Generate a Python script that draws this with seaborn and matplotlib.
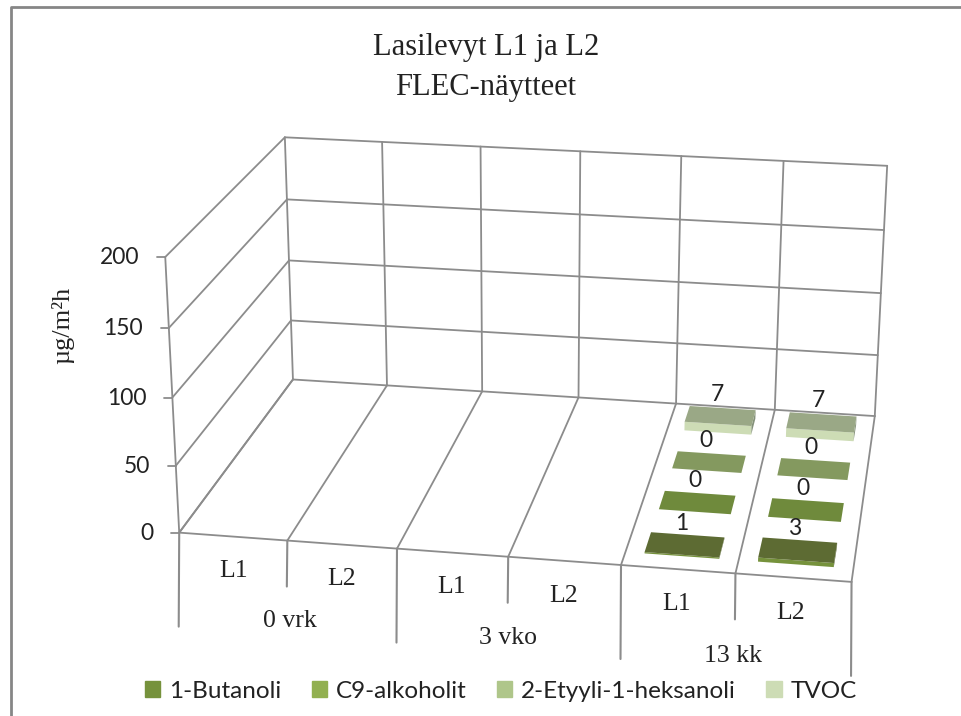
import matplotlib
matplotlib.use('Agg')
import matplotlib.pyplot as plt
from matplotlib.patches import Patch
import numpy as np
import seaborn as sns

title = 'Lasilevyt L1 ja L2\nFLEC-näytteet'
ylabel = 'µg/m²h'
samples = ['L1', 'L2', 'L1', 'L2', 'L1', 'L2']
groups = ['0 vrk', '3 vko', '13 kk']
series = ['1-Butanoli', 'C9-alkoholit', '2-Etyyli-1-heksanoli', 'TVOC']
yticks = [0, 50, 100, 150, 200]

# values per sample, nan = no measurement drawn
butanoli = [np.nan, np.nan, np.nan, np.nan, 1, 3]
c9 = [np.nan, np.nan, np.nan, np.nan, 0, 0]
etyyli = [np.nan, np.nan, np.nan, np.nan, 0, 0]
tvoc = [np.nan, np.nan, np.nan, np.nan, 7, 7]

front_colors = ['#76923c', '#92b050', '#afc68a', '#cddcb5']
top_colors = ['#5d6b33', '#6f8a3c', '#84995f', '#9aa886']
side_colors = ['#4f5c2a', '#5f7733', '#71834f', '#85927a']
grid_color = '#8c8c8c'
text_color = '#222222'

# pixel positions of the chart box edges, only used to fit the perspective camera
floor_front = [(179, 532), (288, 541), (397, 549), (508, 557), (621, 565), (736, 573), (851, 582)]
floor_back = [(293, 379), (387, 385), (482, 392), (578, 398), (676, 403), (775, 410), (875, 416)]
wall_top = [(285, 137), (382, 142), (480, 147), (581, 152), (682, 156), (783, 161), (887, 165)]
left_edge = [(176, 466), (172, 397), (169, 328), (165, 257)]


def fit_camera():
    pts = []
    for i in range(7):
        pts.append(((i, 0, 0), floor_front[i]))
        pts.append(((i, 4, 0), floor_back[i]))
        pts.append(((i, 4, 200), wall_top[i]))
    for v, p in zip(yticks[1:], left_edge):
        pts.append(((0, 0, v), p))
    rows = []
    rhs = []
    for (x, y, z), (u, v) in pts:
        rows.append([x, y, z, 1, 0, 0, 0, 0, -u*x, -u*y, -u*z])
        rows.append([0, 0, 0, 0, x, y, z, 1, -v*x, -v*y, -v*z])
        rhs += [u, v]
    sol = np.linalg.lstsq(np.array(rows, float), np.array(rhs, float), rcond=None)[0]
    return np.append(sol, 1).reshape(3, 4)


cam = fit_camera()


def proj(x, y, z):
    h = cam @ np.array([x, y, z, 1.0])
    return h[0] / h[2], h[1] / h[2]


def line3d(ax, a, b, lw=1.3):
    pa, pb = proj(*a), proj(*b)
    ax.plot([pa[0], pb[0]], [pa[1], pb[1]], color=grid_color, lw=lw,
            solid_capstyle='round', zorder=1)


def face(ax, corners, color, z):
    pts = [proj(*c) for c in corners]
    ax.fill([p[0] for p in pts], [p[1] for p in pts], color=color, lw=0, zorder=z)


def bar3d(ax, x, row, value, color_i):
    # bar takes 2/3 of the category width and a bit under half of the row depth
    x0, x1 = x + 0.17, x + 0.83
    y0, y1 = row + 0.28, row + 0.72
    z = 3 + row * 0.1
    face(ax, [(x0, y0, 0), (x1, y0, 0), (x1, y0, value), (x0, y0, value)], front_colors[color_i], z)
    face(ax, [(x1, y0, 0), (x1, y1, 0), (x1, y1, value), (x1, y0, value)], side_colors[color_i], z)
    face(ax, [(x0, y0, value), (x1, y0, value), (x1, y1, value), (x0, y1, value)], top_colors[color_i], z + 0.01)
    u, v = proj((x0 + x1) / 2, (y0 + y1) / 2, value)
    ax.annotate(f'{value:.0f}', (u, v), xytext=(-2, 15.5), textcoords='offset points',
                ha='center', va='center', fontsize=16.5, color=text_color, zorder=6)


sns.set_theme(style='white')
plt.rcParams['font.family'] = ['Lato', 'DejaVu Sans']

fig = plt.figure(figsize=(9.62, 7.16), dpi=100)
ax = fig.add_axes([0, 0, 1, 1])
ax.set_xlim(0, 962)
ax.set_ylim(716, 0)
ax.axis('off')

# outer chart frame, runs off the picture on the right and at the bottom
ax.plot([11, 11, 962], [716, 7, 7], color='#868686', lw=2, zorder=0)

# walls and floor
for v in yticks:
    line3d(ax, (0, 0, v), (0, 4, v))
    line3d(ax, (0, 4, v), (6, 4, v))
    u, w = proj(0, 0, v)
    ax.plot([u - 8, u], [w, w], color=grid_color, lw=1.3)
    ax.text(u - 26, w + 1, str(v), ha='right', va='center', fontsize=16.5, color=text_color)
for i in range(7):
    line3d(ax, (i, 4, 0), (i, 4, 200))
    line3d(ax, (i, 0, 0), (i, 4, 0))
line3d(ax, (0, 0, 0), (0, 0, 200))
line3d(ax, (0, 0, 0), (6, 0, 0))

# two level category axis hanging straight down from the front floor edge
for i in range(7):
    u, w = proj(i, 0, 0)
    ax.plot([u, u - 0.5], [w, w + (94 if i % 2 == 0 else 46)], color=grid_color, lw=1.5, zorder=1)
for i, s in enumerate(samples):
    u, w = proj(i + 0.5, 0, -26)
    ax.text(u - 1, w, s, ha='center', va='center', fontsize=18.5, family='Liberation Serif', color=text_color)
for i, g in enumerate(groups):
    u, w = proj(2 * i + 1, 0, -61)
    ax.text(u, w, g, ha='center', va='center', fontsize=18.5, family='Liberation Serif', color=text_color)

# bars, front row first
for row, vals in enumerate([butanoli, c9, etyyli, tvoc]):
    for x, val in enumerate(vals):
        if not np.isnan(val):
            bar3d(ax, x, row, val, row)

ax.text(486, 68, title, ha='center', va='center', fontsize=22, linespacing=1.5,
        family='Liberation Serif', color=text_color)
ax.text(63, 325, ylabel, ha='center', va='center', rotation=90, fontsize=19,
        family='Liberation Serif', color=text_color)

handles = [Patch(color=c, label=s) for c, s in zip(front_colors, series)]
ax.legend(handles=handles, ncol=4, frameon=False, loc='center', bbox_to_anchor=(501, 691),
          bbox_transform=ax.transData, fontsize=17.5, handlelength=0.62, handleheight=0.62,
          handletextpad=0.37, columnspacing=1.25, labelcolor=text_color)

fig.savefig('out.png', dpi=100)
